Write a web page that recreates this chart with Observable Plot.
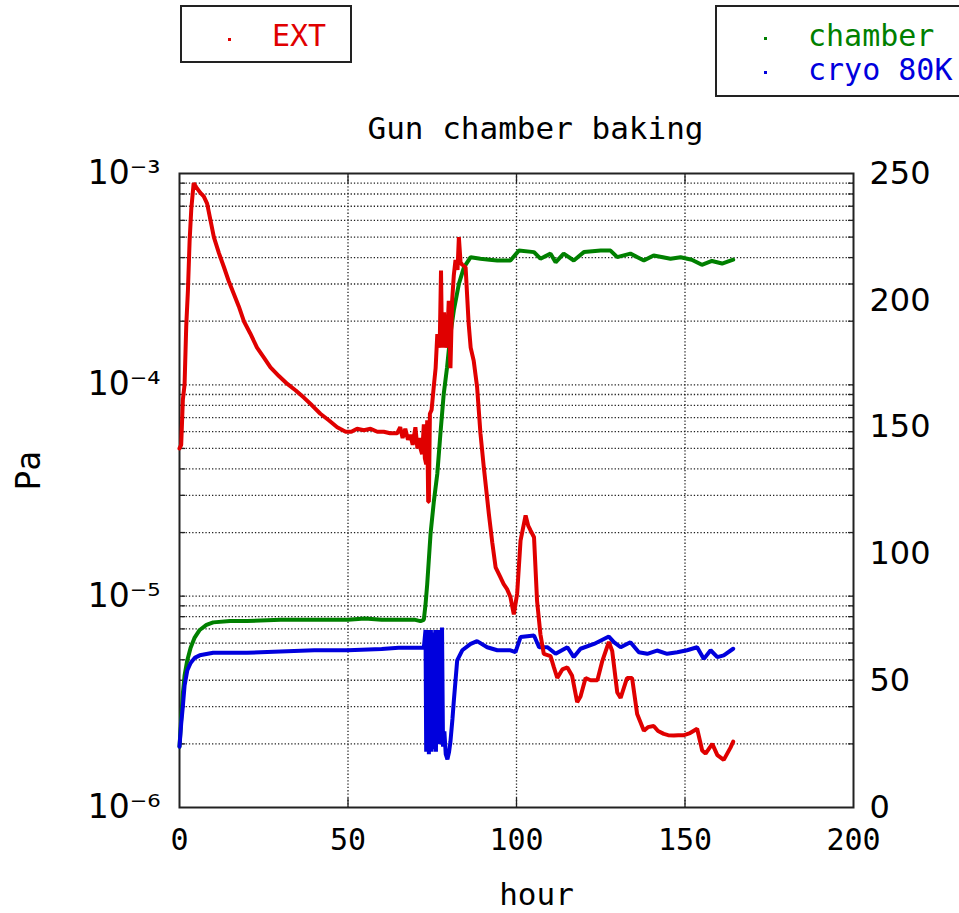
<!DOCTYPE html>
<html>
<head>
<meta charset="utf-8">
<script src="https://cdn.jsdelivr.net/npm/d3@7"></script>
<script src="https://cdn.jsdelivr.net/npm/@observablehq/plot@0.6"></script>
<style>
  body { margin: 0; background: #fff; }
  #wrap { position: relative; width: 959px; height: 913px; overflow: hidden; background: #fff; }
  .lg { position: absolute; border: 2px solid #222; box-sizing: border-box; background: #fff;
        font-family: "DejaVu Sans Mono", monospace; font-size: 30px; }
  .lg .row { position: absolute; white-space: nowrap; line-height: 1; }
  .lg .dot { position: absolute; width: 3px; height: 3px; }
</style>
</head>
<body>
<div id="wrap">
  <div class="lg" style="left:180px;top:5px;width:172px;height:58px;">
    <div class="dot" style="left:46px;top:31px;background:#e00000;"></div>
    <div class="row" style="left:90px;top:14px;color:#e00000;">EXT</div>
  </div>
  <div class="lg" style="left:715px;top:5px;width:270px;height:92px;">
    <div class="dot" style="left:47px;top:30px;background:#008000;"></div>
    <div class="row" style="left:91px;top:14px;color:#008000;">chamber</div>
    <div class="dot" style="left:47px;top:64px;background:#0000dd;"></div>
    <div class="row" style="left:91px;top:48px;color:#0000dd;">cryo 80K</div>
  </div>
</div>
<script>
// ---- data ----
const extHour = [0,0.5,1.0,1.5,2.0,2.5,3.0,3.5,4.2,5.0,6.2,7.2,8.2,9.2,10.2,11.7,13.2,14.6,16.1,17.6,19.1,21.0,23.0,25.0,27.0,29.5,32.0,34.5,36.9,39.3,41.8,44.3,46.8,49.3,51.0,52.7,54.7,56.7,58.7,60.6,62.5,64.6,65.5,66.2,67.0,67.8,68.5,69.2,70.0,70.6,71.2,71.5,72.0,72.5,72.8,73.2,73.5,73.8,74.0,74.3,74.8,75.5,76.0,76.5,77.2,77.6,77.9,78.5,79.0,79.4,79.9,80.4,80.9,81.4,81.9,82.5,82.9,83.4,83.9,84.9,85.8,86.4,87.3,88.3,89.3,90.3,91.8,92.8,93.8,95.0,96.2,97.2,98.2,99.2,100.2,101.2,102.7,103.5,104.2,105.2,106.1,107.1,108.1,110.1,111.1,112.1,113.6,115.1,116.5,118.0,119.0,120.5,122.0,124.0,125.4,127.4,128.4,129.9,130.9,132.8,134.3,135.8,137.8,139.0,140.7,142.0,143.7,145.0,146.7,148.0,149.7,151.5,153.6,155.1,156.1,158.1,159.6,161.5,163.5,164.3];
const extPa = [5.0e-5,5.2e-5,8.5e-5,1.0e-4,1.9e-4,2.8e-4,4.8e-4,6.8e-4,9.0e-4,8.6e-4,8.1e-4,7.8e-4,7.2e-4,6.0e-4,5.0e-4,4.2e-4,3.6e-4,3.1e-4,2.7e-4,2.35e-4,2.0e-4,1.75e-4,1.5e-4,1.35e-4,1.21e-4,1.1e-4,1.01e-4,9.4e-5,8.7e-5,8.0e-5,7.3e-5,6.8e-5,6.3e-5,6.0e-5,6.0e-5,6.2e-5,6.1e-5,6.2e-5,6.0e-5,6.0e-5,5.9e-5,5.9e-5,6.3e-5,5.6e-5,6.2e-5,5.5e-5,5.8e-5,5.2e-5,6.3e-5,5.0e-5,5.6e-5,5.0e-5,4.7e-5,6.5e-5,4.5e-5,4.2e-5,6.8e-5,2.8e-5,2.8e-5,7.3e-5,7.6e-5,1.0e-4,1.2e-4,1.74e-4,1.5e-4,3.47e-4,1.5e-4,2.2e-4,1.5e-4,1.62e-4,2.5e-4,1.2e-4,2.5e-4,3.3e-4,3.9e-4,3.5e-4,5.0e-4,3.8e-4,3.7e-4,3.6e-4,1.95e-4,1.5e-4,1.3e-4,9.8e-5,5.9e-5,4.07e-5,2.45e-5,1.8e-5,1.37e-5,1.25e-5,1.14e-5,1.08e-5,9.9e-6,8.2e-6,1.03e-5,1.83e-5,2.41e-5,2.15e-5,2.04e-5,1.9e-5,9.5e-6,6.6e-6,5.33e-6,5.2e-6,4.6e-6,4.1e-6,4.5e-6,4.6e-6,4.2e-6,3.15e-6,3.35e-6,4.1e-6,4.0e-6,4.0e-6,4.9e-6,6.07e-6,5.5e-6,3.5e-6,3.3e-6,4.1e-6,4.1e-6,2.77e-6,2.31e-6,2.4e-6,2.43e-6,2.3e-6,2.23e-6,2.2e-6,2.19e-6,2.2e-6,2.2e-6,2.25e-6,2.36e-6,1.86e-6,1.8e-6,2.0e-6,1.77e-6,1.68e-6,1.92e-6,2.05e-6];

const chamberHour = [0,0.5,1.0,1.5,2.3,3.3,4.5,6,8,10,15,20,30,40,50,55,60,65,70,71.5,72.5,73.0,73.5,74.5,75.5,76.5,77.4,78.4,79.4,80.4,81.4,82.9,84.4,86.4,89.3,92,94.3,98.2,100.7,105.2,107.1,110.1,111.6,114,117,120,125,127.9,129.9,133.8,137.8,140.7,145.7,148.7,152,155,158,161,164.3];
const chamberT = [24,35,45,52,58,63,67,70,72,73,73.5,73.5,74,74,74,74.5,74,74,74,73.5,74,80,88,108,121,131.6,147,163,173.6,186.8,196,206.5,213,217,216.4,216,215.7,215.7,219.6,219,216.4,218.4,215,218.4,215.7,219,219.6,219.6,217,218.4,215.7,217.7,216.4,217,216,214,215.5,214.5,216];

const cryoHour = [0,0.5,1.0,1.5,2.3,3.3,4.5,6,10,20,30,40,50,60,65,72.5,73.0,73.2,73.4,73.6,73.8,74.0,74.2,74.4,74.6,74.8,75.0,75.2,75.5,75.7,75.9,76.1,76.3,76.5,76.8,77.0,77.4,77.7,77.9,78.2,78.6,79.0,79.5,80.0,80.4,81.0,81.4,82.4,83.9,86.4,88.3,91.3,94.3,98.2,99.7,101.2,105.2,106.7,109.2,111.6,115.1,117,119,123,127.4,128.9,130.9,133.8,136.3,138.8,141.7,144.7,147.7,150.6,153.6,155.6,157.6,159.6,161.5,164.3];
const cryoT = [24,33,40,48,54,57,59,60,61,61,61.5,62,62,62.5,63,63,70,22,69,24,70,21,68,25,70,22,69,23,68,26,70,22,66,28,70,25,64,30,71,24,30,21,19,22,26,35,42,58,62,64.5,65.6,63.2,62,62,61.3,67.2,67.8,63.2,63.2,60.6,63.2,59.3,62.6,64.5,67.4,65.2,63.2,65.2,61.2,60.6,61.9,60.6,61.2,62,63.2,58.6,62,59.3,60,62.6];

const xTicks = [0, 50, 100, 150, 200];
const decadeTicks = [1e-6, 1e-5, 1e-4, 1e-3];
const tempTicks = [0, 50, 100, 150, 200, 250];
const labels = {title: "Gun chamber baking", x: "hour", y: "Pa"};

// right-axis (temperature 0..250) mapped onto the log y scale
const tToY = t => Math.pow(10, -6 + 3 * t / 250);
const yToT = v => Math.round(250 * (Math.log10(v) + 6) / 3);

const ext = extHour.map((h, i) => ({h, v: extPa[i]}));
const chamber = chamberHour.map((h, i) => ({h, v: tToY(chamberT[i])}));
const cryo = cryoHour.map((h, i) => ({h, v: tToY(cryoT[i])}));

const minorTicks = [];
for (let e = -6; e < -3; e++) for (let m = 1; m <= 9; m++) {
  const v = m * Math.pow(10, e);
  if (v > 1e-6 * 1.0001) minorTicks.push(v);
}
const innerX = xTicks.slice(1, -1);
const sup = {"-": "\u207B", "0": "\u2070", "1": "\u00B9", "2": "\u00B2", "3": "\u00B3", "4": "\u2074", "5": "\u2075", "6": "\u2076", "7": "\u2077", "8": "\u2078", "9": "\u2079"};
const fmtDecade = d => "10" + String(Math.round(Math.log10(d))).split("").map(c => sup[c]).join("");

const dotted = {stroke: "#222", strokeWidth: 1.3, strokeDasharray: "1.3,2"};
const tickStyle = {tickFormat: () => "", stroke: "#222", strokeWidth: 1.3, label: null};

const chart = Plot.plot({
  width: 959,
  height: 913,
  marginLeft: 179,
  marginRight: 106,
  marginTop: 173,
  marginBottom: 106,
  x: {domain: [0, 200], axis: null},
  y: {type: "log", domain: [1e-6, 1e-3], axis: null},
  style: {background: "white", color: "black"},
  marks: [
    Plot.ruleY(minorTicks, {y: d => d, ...dotted}),
    Plot.ruleX(innerX, {x: d => d, ...dotted}),
    // inward tick marks
    Plot.axisY(minorTicks, {anchor: "left", tickSize: -6, ...tickStyle}),
    Plot.axisY(minorTicks, {anchor: "right", tickSize: -6, ...tickStyle}),
    Plot.axisX(innerX, {anchor: "bottom", tickSize: -9, ...tickStyle}),
    Plot.axisX(innerX, {anchor: "top", tickSize: -9, ...tickStyle}),
    Plot.frame({stroke: "#222", strokeWidth: 2}),
    // series
    Plot.line(chamber, {x: "h", y: "v", stroke: "#008000", strokeWidth: 4, strokeLinejoin: "miter"}),
    Plot.line(cryo, {x: "h", y: "v", stroke: "#0000dd", strokeWidth: 4, strokeLinejoin: "miter"}),
    Plot.line(ext, {x: "h", y: "v", stroke: "#e00000", strokeWidth: 4, strokeLinejoin: "miter"}),
    // axes labels
    Plot.axisY(decadeTicks, {anchor: "left", tickSize: 0, tickPadding: 19, tickFormat: fmtDecade, label: null,
      fontSize: 33, fontFamily: "DejaVu Sans", fill: "black"}),
    Plot.axisY(tempTicks.map(tToY), {anchor: "right", tickSize: 0, tickPadding: 16, tickFormat: yToT, label: null,
      fontSize: 32, fontFamily: "DejaVu Sans", fill: "black"}),
    Plot.axisX(xTicks, {anchor: "bottom", tickSize: 0, tickPadding: 21, tickFormat: d => String(d), label: null,
      fontSize: 30, fontFamily: "DejaVu Sans Mono", fill: "black"}),
    Plot.text([labels.title], {text: d => d, frameAnchor: "top", dx: 19, dy: -44, lineAnchor: "middle",
      fontSize: 31, fontFamily: "DejaVu Sans Mono", fill: "black"}),
    Plot.text([labels.x], {text: d => d, frameAnchor: "bottom", dx: 20, dy: 88, lineAnchor: "middle",
      fontSize: 31, fontFamily: "DejaVu Sans Mono", fill: "black"}),
    Plot.text([labels.y], {text: d => d, frameAnchor: "left", dx: -150, dy: 0, rotate: -90, lineAnchor: "middle",
      fontSize: 33, fontFamily: "DejaVu Sans Mono", fill: "black"})
  ]
});
chart.style.position = "absolute";
chart.style.left = "0";
chart.style.top = "0";
const wrap = document.getElementById("wrap");
wrap.insertBefore(chart, wrap.firstChild);
</script>
</body>
</html>
